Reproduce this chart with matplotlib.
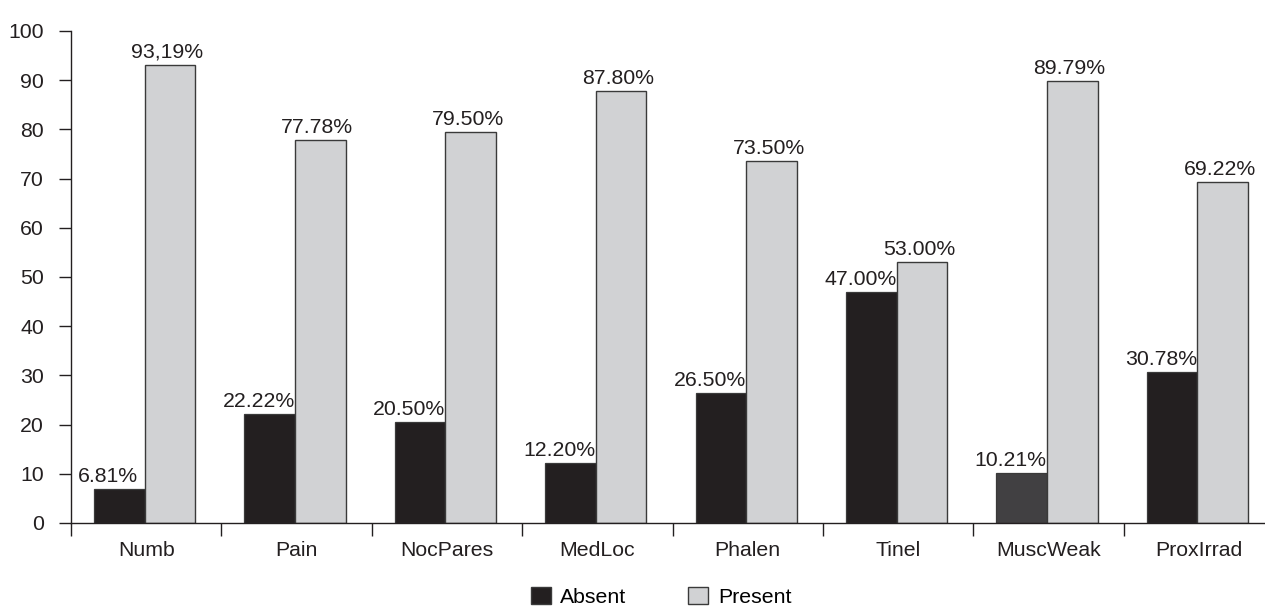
import matplotlib
matplotlib.use("Agg")
import matplotlib.pyplot as plt
from matplotlib.patches import Patch
import numpy as np

plt.rcParams['font.family'] = ['Liberation Sans', 'DejaVu Sans']

categories = ["Numb", "Pain", "NocPares", "MedLoc", "Phalen", "Tinel", "MuscWeak", "ProxIrrad"]
absent = [6.81, 22.22, 20.50, 12.20, 26.50, 47.00, 10.21, 30.78]
present = [93.19, 77.78, 79.50, 87.80, 73.50, 53.00, 89.79, 69.22]
# decimal separator used in each "Present" label (the first one is printed with a comma)
present_sep = [",", ".", ".", ".", ".", ".", ".", "."]
yticks = [0, 10, 20, 30, 40, 50, 60, 70, 80, 90, 100]

dark = "#231f20"
dark_alt = "#414042"
light = "#d1d2d4"
edge = "#3a3a3a"
fs = 15.3

fig = plt.figure(figsize=(12.65, 6.10), dpi=100)
ax = fig.add_axes([71 / 1265, 1 - 523 / 610, 1203 / 1265, 492 / 610])

x = np.arange(len(categories))
w = 0.337
absent_colors = [dark_alt if c == "MuscWeak" else dark for c in categories]
b1 = ax.bar(x - w / 2 - 0.01, absent, w, color=absent_colors, edgecolor=edge, linewidth=0.9)
b2 = ax.bar(x + w / 2 - 0.01, present, w, color=light, edgecolor=edge, linewidth=1.0)

for rect, v in zip(b1, absent):
    ax.annotate(f"{v:.2f}%", (rect.get_x() + rect.get_width() / 2, v),
                xytext=(-11, 3), textcoords="offset pixels",
                ha="center", va="bottom", fontsize=fs, color="#231f20")
for rect, v, sep in zip(b2, present, present_sep):
    ax.annotate(f"{v:.2f}%".replace(".", sep), (rect.get_x() + rect.get_width() / 2, v),
                xytext=(-3, 3), textcoords="offset pixels",
                ha="center", va="bottom", fontsize=fs, color="#231f20")

ax.set_xlim(-0.5, len(categories) - 0.5)
ax.set_ylim(0, 100)
ax.set_yticks(yticks)
ax.set_yticklabels([str(t) for t in yticks], fontsize=fs, color="#231f20")
ax.tick_params(axis="y", direction="out", length=8.5, width=1, pad=11, color="#231f20")

ax.set_xticks(x)
ax.set_xticklabels(categories, fontsize=fs, color="#231f20")
ax.set_xticks(np.arange(len(categories)) - 0.5, minor=True)
ax.tick_params(axis="x", which="major", length=0, pad=13)
ax.tick_params(axis="x", which="minor", direction="out", length=9.5, width=1, color="#231f20")

for s in ("top", "right"):
    ax.spines[s].set_visible(False)
for s in ("left", "bottom"):
    ax.spines[s].set_color("#231f20")
    ax.spines[s].set_linewidth(1.0)

handles = [Patch(facecolor=dark, edgecolor=edge, label="Absent"),
           Patch(facecolor=light, edgecolor=edge, label="Present")]
fig.legend(handles=handles, loc="center", bbox_to_anchor=(0.5225, 0.021), ncol=2,
           frameon=False, fontsize=fs, handlelength=0.95, handleheight=0.85,
           handletextpad=0.45, columnspacing=2.9, borderpad=0)

fig.savefig("out.png", dpi=100)
